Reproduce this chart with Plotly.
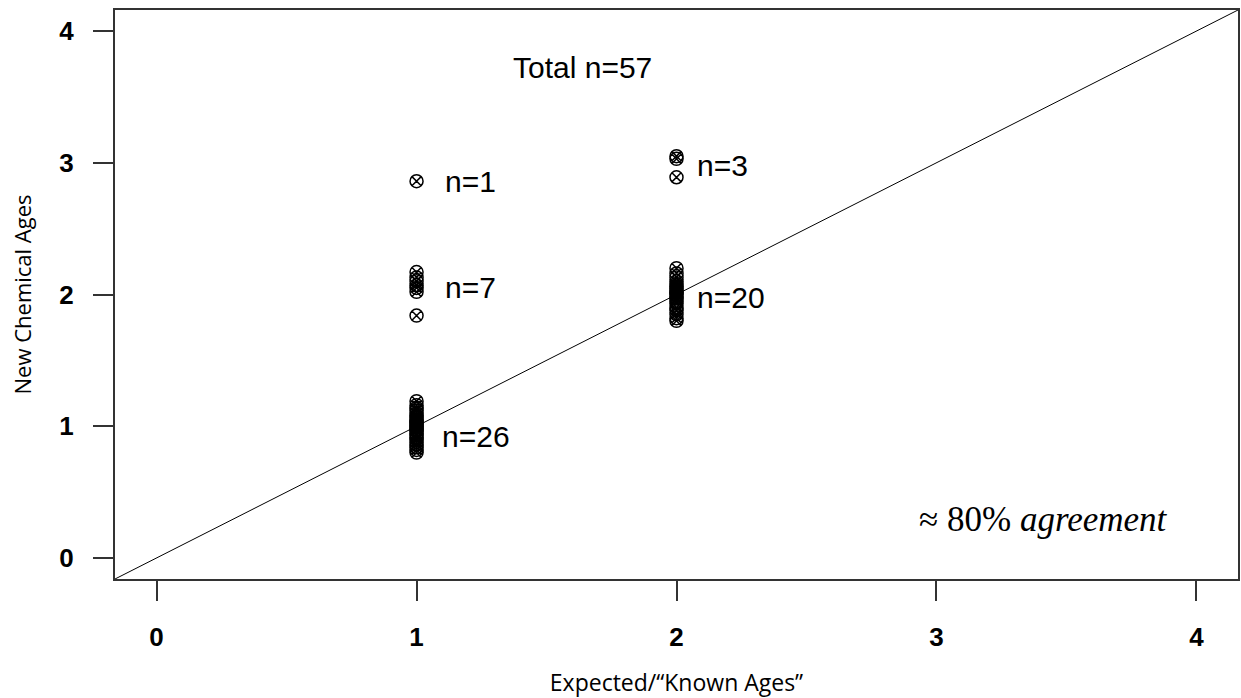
import plotly.graph_objects as go

# Chemical age estimates grouped by expected ("known") age
known_1_high = [2.86]
known_1_mid = [1.84, 2.02, 2.05, 2.07, 2.10, 2.13, 2.17]
known_1_low = [0.80, 0.82, 0.84, 0.86, 0.88, 0.90, 0.91, 0.93, 0.94, 0.96,
               0.97, 0.98, 0.99, 1.00, 1.01, 1.02, 1.03, 1.04, 1.05, 1.07,
               1.08, 1.10, 1.12, 1.14, 1.16, 1.19]
known_2_high = [2.89, 3.03, 3.05]
known_2_low = [1.80, 1.82, 1.85, 1.88, 1.90, 1.93, 1.95, 1.97, 1.98, 2.00,
               2.01, 2.02, 2.03, 2.05, 2.06, 2.08, 2.10, 2.13, 2.16, 2.20]

groups = [
    (1, known_1_high),
    (1, known_1_mid),
    (1, known_1_low),
    (2, known_2_high),
    (2, known_2_low),
]
# label anchor (x, y) for each group's count
label_pos = [(1.10, 2.86), (1.10, 2.05), (1.09, 0.92), (2.07, 2.98), (2.07, 1.98)]

axis_range = [-0.16, 4.16]
tick_vals = [0, 1, 2, 3, 4]

xs, ys = [], []
for known, vals in groups:
    xs += [known] * len(vals)
    ys += vals
total_n = len(ys)

fig = go.Figure()

# identity line y = x
fig.add_trace(go.Scatter(
    x=axis_range, y=axis_range, mode="lines",
    line=dict(color="black", width=1), hoverinfo="skip",
))

fig.add_trace(go.Scatter(
    x=xs, y=ys, mode="markers",
    marker=dict(symbol="circle-x-open", size=13, color="black",
                line=dict(width=1.5, color="black")),
))

label_font = dict(family="Liberation Sans, Arial, sans-serif", size=30, color="black")
for (known, vals), (lx, ly) in zip(groups, label_pos):
    fig.add_annotation(x=lx, y=ly, text=f"n={len(vals)}", showarrow=False,
                       xanchor="left", yanchor="middle", font=label_font)

fig.add_annotation(x=1.64, y=3.72, text=f"Total n={total_n}", showarrow=False,
                   xanchor="center", yanchor="middle", font=label_font)
fig.add_annotation(x=3.41, y=0.29, text="≈ 80% <i>agreement</i>", showarrow=False,
                   xanchor="center", yanchor="middle",
                   font=dict(family="Liberation Serif, DejaVu Serif, serif", size=35,
                             color="black"))

axis_common = dict(
    range=axis_range, tickvals=tick_vals, ticks="outside", ticklen=20,
    tickwidth=2, tickcolor="#333", showline=True, linecolor="#333", linewidth=2,
    mirror=True, showgrid=False, zeroline=False, ticklabelstandoff=14,
    tickfont=dict(family="Liberation Sans, Arial, sans-serif", size=26,
                  color="black", weight="bold"),
)

fig.update_xaxes(**axis_common,
                 title=dict(text="Expected/“Known Ages”", standoff=26,
                            font=dict(family="Open Sans, sans-serif", size=23,
                                      color="black")))
fig.update_yaxes(**axis_common,
                 title=dict(text="New Chemical Ages", standoff=22,
                            font=dict(family="Open Sans, sans-serif", size=22,
                                      color="black")))

fig.update_layout(
    width=1241, height=698,
    margin=dict(l=115, r=1, t=10, b=119),
    plot_bgcolor="white", paper_bgcolor="white",
    showlegend=False,
)

fig.write_html("out.html")
